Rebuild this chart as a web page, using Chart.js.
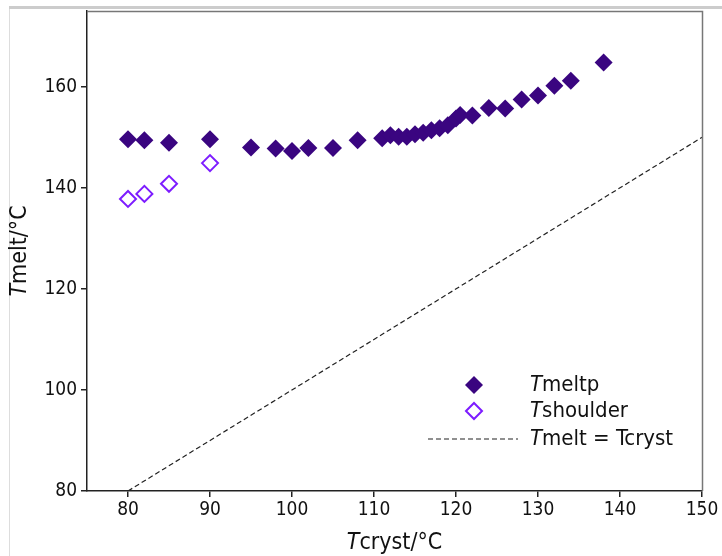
<!DOCTYPE html>
<html>
<head>
<meta charset="utf-8">
<script src="https://cdn.jsdelivr.net/npm/chart.js@4"></script>
<style>
html,body{margin:0;padding:0;background:#fff;}
#wrap{position:relative;width:722px;height:556px;}
</style>
</head>
<body>
<div id="wrap"><canvas id="c" width="722" height="556"></canvas></div>
<script>
const meltX = [80,82,85,90,95,98,100,102,105,108,111,112,113,114,115,116,117,118,119,120,120.5,122,124,126,128,130,132,134,138];
const meltY = [149.6,149.4,148.9,149.6,148.0,147.8,147.3,147.9,147.9,149.4,149.8,150.4,150.1,150.1,150.6,150.9,151.4,151.8,152.4,153.7,154.4,154.3,155.8,155.7,157.5,158.3,160.2,161.2,164.8];
const shoulderX = [80,82,85,90];
const shoulderY = [137.8,138.8,140.8,144.9];
const lineX = [80,150];
const lineY = [80,150];
const xTicks = [80,90,100,110,120,130,140,150];
const yTicks = [80,100,120,140,160];

const FILL = '#3a0580';
const OPEN = '#7d1cff';
const FONT = '"DejaVu Sans Condensed", "DejaVu Sans"';
const tickFont = {family:FONT, size:19};

const pts = (xs, ys) => xs.map((x,i)=>({x:x, y:ys[i]}));

function mixedText(ctx, parts, x, y, size, align){
  let total = 0;
  const widths = parts.map(p=>{ctx.font=(p[1]?'italic ':'')+size+'px '+FONT; const w=ctx.measureText(p[0]).width; total+=w; return w;});
  let cx = align==='center' ? x-total/2 : x;
  parts.forEach((p,i)=>{ctx.font=(p[1]?'italic ':'')+size+'px '+FONT; ctx.fillText(p[0], cx, y); cx+=widths[i];});
}

const decor = {
  id:'decor',
  beforeDraw(chart){
    const ctx = chart.ctx;
    ctx.save();
    ctx.fillStyle='#fff';
    ctx.fillRect(0,0,chart.width,chart.height);
    ctx.fillStyle='#cccccc';
    ctx.fillRect(9,6,713,3);
    ctx.fillStyle='#dddddd';
    ctx.fillRect(9,9,1,547);
    ctx.restore();
  },
  afterDraw(chart){
    const ctx = chart.ctx, a = chart.chartArea;
    ctx.save();
    ctx.strokeStyle='#777';
    ctx.lineWidth=1.5;
    ctx.beginPath();
    ctx.moveTo(a.left, a.top+0.5); ctx.lineTo(a.right+0.5, a.top+0.5); ctx.lineTo(a.right+0.5, a.bottom);
    ctx.stroke();
    ctx.fillStyle='#111';
    ctx.textBaseline='middle';
    mixedText(ctx, [['T',true],['cryst/°C',false]], (a.left+a.right)/2, 543, 23, 'center');
    ctx.save();
    ctx.translate(20, (a.top+a.bottom)/2);
    ctx.rotate(-Math.PI/2);
    mixedText(ctx, [['T',true],['melt/°C',false]], 0, 0, 23, 'center');
    ctx.restore();
    // legend
    const lx = 474, tx = 530;
    const rows = [385, 411, 439];
    ctx.fillStyle=FILL;
    ctx.beginPath(); ctx.moveTo(lx-9,rows[0]); ctx.lineTo(lx,rows[0]-9); ctx.lineTo(lx+9,rows[0]); ctx.lineTo(lx,rows[0]+9); ctx.closePath(); ctx.fill();
    ctx.strokeStyle=OPEN; ctx.lineWidth=2;
    ctx.beginPath(); ctx.moveTo(lx-8,rows[1]); ctx.lineTo(lx,rows[1]-8); ctx.lineTo(lx+8,rows[1]); ctx.lineTo(lx,rows[1]+8); ctx.closePath(); ctx.stroke();
    ctx.strokeStyle='#222'; ctx.lineWidth=1.2; ctx.setLineDash([5,3]);
    ctx.beginPath(); ctx.moveTo(428,rows[2]); ctx.lineTo(518,rows[2]); ctx.stroke();
    ctx.setLineDash([]);
    ctx.fillStyle='#111';
    mixedText(ctx, [['T',true],['meltp',false]], tx, rows[0], 22, 'left');
    mixedText(ctx, [['T',true],['shoulder',false]], tx, rows[1], 22, 'left');
    mixedText(ctx, [['T',true],['melt = Tcryst',false]], tx, rows[2], 22, 'left');
    ctx.restore();
  }
};

new Chart(document.getElementById('c'), {
  type:'scatter',
  data:{
    datasets:[
      {label:'Tmelt = Tcryst', type:'line', data:pts(lineX,lineY), borderColor:'#222', borderWidth:1.2, borderDash:[5,3], pointRadius:0, fill:false, order:3},
      {label:'Tshoulder', data:pts(shoulderX,shoulderY), pointStyle:'rectRot', pointRadius:8, pointBackgroundColor:'rgba(0,0,0,0)', pointBorderColor:OPEN, pointBorderWidth:2, order:2},
      {label:'Tmeltp', data:pts(meltX,meltY), pointStyle:'rectRot', pointRadius:9, pointBackgroundColor:FILL, pointBorderColor:FILL, pointBorderWidth:0, order:1}
    ]
  },
  options:{
    responsive:false,
    animation:false,
    devicePixelRatio:1,
    layout:{padding:{left:0, top:11, right:20, bottom:0}},
    plugins:{legend:{display:false}, tooltip:{enabled:false}, title:{display:false}},
    scales:{
      x:{
        type:'linear', min:75, max:150,
        afterBuildTicks(s){ s.ticks = xTicks.map(v=>({value:v})); },
        afterFit(s){ s.height = 65; s.paddingLeft = 0; s.paddingRight = 0; },
        grid:{display:true, drawOnChartArea:false, drawTicks:true, tickLength:6, color:'#222', lineWidth:1.5},
        border:{display:true, color:'#222', width:1.5},
        ticks:{font:tickFont, color:'#111', padding:2, maxRotation:0, autoSkip:false}
      },
      y:{
        type:'linear', min:80, max:175,
        afterBuildTicks(s){ s.ticks = yTicks.map(v=>({value:v})); },
        afterFit(s){ s.width = 87; s.paddingTop = 0; s.paddingBottom = 0; },
        grid:{display:true, drawOnChartArea:false, drawTicks:true, tickLength:6, color:'#222', lineWidth:1.5},
        border:{display:true, color:'#222', width:1.5},
        ticks:{font:tickFont, color:'#111', padding:4, autoSkip:false}
      }
    }
  },
  plugins:[decor]
});
</script>
</body>
</html>
